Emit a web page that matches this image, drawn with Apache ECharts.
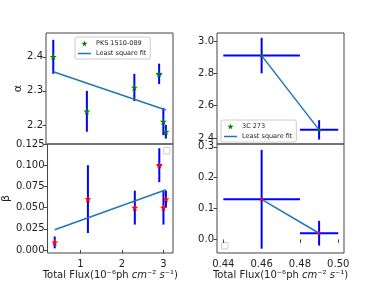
<!DOCTYPE html>
<html><head><meta charset="utf-8">
<script src="https://cdn.jsdelivr.net/npm/echarts@6/dist/echarts.min.js"></script>
<style>html,body{margin:0;padding:0;background:#fff}#c{width:382px;height:285px}</style>
</head><body><div id="c"></div>
<script>
// PKS 1510-089
const pksFlux = [0.38, 1.18, 2.31, 2.90, 3.00, 3.06];
const pksFluxErr = [0, 0, 0, 0.06, 0, 0];
const pksAlpha = [2.40, 2.24, 2.31, 2.35, 2.21, 2.18];
const pksAlphaErr = [0.05, 0.06, 0.04, 0.03, 0.04, 0.02];
const pksBeta = [0.009, 0.06, 0.05, 0.10, 0.05, 0.06];
const pksBetaErr = [0.007, 0.04, 0.02, 0.02, 0.02, 0.01];
const pksFitX = [0.38, 3.06];
const pksFitAlpha = [2.356, 2.244];
const pksFitBeta = [0.024, 0.071];
// 3C 273
const c3Flux = [0.46, 0.49];
const c3FluxErr = [0.02, 0.01];
const c3Alpha = [2.91, 2.45];
const c3AlphaErr = [0.11, 0.06];
const c3Beta = [0.13, 0.02];
const c3BetaErr = [0.16, 0.04];
// ticks
const pksXTicks = [1, 2, 3];
const pksAlphaTicks = [2.2, 2.3, 2.4];
const pksBetaTicks = [0, 0.025, 0.05, 0.075, 0.1, 0.125];
const c3XTicks = [0.44, 0.46, 0.48, 0.50];
const c3AlphaTicks = [2.4, 2.6, 2.8, 3.0];
const c3BetaTicks = [0.0, 0.1, 0.2, 0.3];

const STAR = 'path://M50,0 L61,35 L98,35 L68,57 L79,91 L50,70 L21,91 L32,57 L2,35 L39,35 Z';
const LINE_ICON = 'path://M0,0 L130,0 L130,0.01 Z M0,23 L130,23 L130,37 L0,37 Z M0,60 L130,60 L130,60.01 Z';
const FONT = 'DejaVu Sans';
const TXT = '#222';
const FRAME = '#444';

function zip(xs, ys) { return xs.map((x, i) => [x, ys[i]]); }
function errData(xs, ys, xe, ye) { return xs.map((x, i) => [x, ys[i], xe[i], ye[i]]); }
function errRender(params, api) {
  const x = api.value(0), y = api.value(1), xe = api.value(2), ye = api.value(3);
  const ch = [];
  const a = api.coord([x, y - ye]), b = api.coord([x, y + ye]);
  ch.push({type: 'line', shape: {x1: a[0], y1: a[1], x2: b[0], y2: b[1]}, style: {stroke: '#0000ff', lineWidth: 2}});
  if (xe > 0) {
    const c = api.coord([x - xe, y]), d = api.coord([x + xe, y]);
    ch.push({type: 'line', shape: {x1: c[0], y1: c[1], x2: d[0], y2: d[1]}, style: {stroke: '#0000ff', lineWidth: 2}});
  }
  return {type: 'group', children: ch};
}

const xName = '{n|Total Flux(10⁻⁶ph }{i|cm}{n|⁻² }{i|s}{n|⁻¹)}';
const nameRich = {n: {fontFamily: FONT, fontSize: 10, color: TXT}, i: {fontFamily: FONT, fontSize: 10, fontStyle: 'italic', color: TXT}};

function xAx(grid, min, max, ticks, fmt, showLabels) {
  return {
    type: 'value', gridIndex: grid, min: min, max: max,
    splitLine: {show: false}, axisLine: {show: false},
    axisTick: {show: showLabels, length: 3.5, lineStyle: {color: FRAME}, customValues: ticks},
    axisLabel: {show: showLabels, customValues: ticks, formatter: fmt, fontFamily: FONT, fontSize: 10, color: TXT, margin: 6},
    name: showLabels ? xName : '', nameLocation: 'middle', nameGap: 17,
    nameTextStyle: {rich: nameRich}
  };
}
function yAx(grid, min, max, ticks, fmt, name, gap) {
  return {
    type: 'value', gridIndex: grid, min: min, max: max,
    splitLine: {show: false}, axisLine: {show: false},
    axisTick: {show: true, length: 3.5, lineStyle: {color: FRAME}, customValues: ticks},
    axisLabel: {customValues: ticks, formatter: fmt, fontFamily: FONT, fontSize: 10, color: TXT, margin: 3},
    name: name, nameLocation: 'middle', nameGap: gap,
    nameTextStyle: {fontFamily: FONT, fontSize: 11, color: TXT}
  };
}
const f = d => v => v.toFixed(d);

const grids = [
  {left: 46, top: 33, width: 127, height: 111},
  {left: 46, top: 144, width: 127, height: 109},
  {left: 217, top: 33, width: 127, height: 111},
  {left: 217, top: 144, width: 127, height: 109}
].map(g => Object.assign(g, {show: true, borderColor: FRAME, borderWidth: 1, backgroundColor: 'transparent'}));

const legendBase = {orient: 'vertical', itemGap: 3, itemWidth: 13, itemHeight: 6, padding: [3, 4, 2, 3],
  borderColor: '#ccc', borderWidth: 1, borderRadius: 2, backgroundColor: 'rgba(255,255,255,0.8)',
  textStyle: {fontFamily: FONT, fontSize: 6.5, color: TXT}};

const option = {
  animation: false,
  backgroundColor: '#fff',
  grid: grids,
  xAxis: [
    xAx(0, 0.207, 3.23, pksXTicks, f(0), false),
    xAx(1, 0.207, 3.23, pksXTicks, f(0), true),
    xAx(2, 0.4367, 0.503, c3XTicks, f(2), false),
    xAx(3, 0.4367, 0.503, c3XTicks, f(2), true)
  ],
  yAxis: [
    yAx(0, 2.144, 2.47, pksAlphaTicks, f(1), 'α', 22),
    yAx(1, -0.0035, 0.125, pksBetaTicks, f(3), 'β', 28),
    yAx(2, 2.3625, 3.05, c3AlphaTicks, f(1), '', 20),
    yAx(3, -0.044, 0.309, c3BetaTicks, f(1), '', 20)
  ],
  legend: [
    Object.assign({left: 75, top: 37, data: [{name: 'PKS 1510-089', icon: STAR}, {name: 'Least square fit', icon: LINE_ICON}]}, legendBase),
    Object.assign({left: 221, top: 120, data: [{name: '3C 273', icon: STAR}, {name: 'Least square fit', icon: LINE_ICON}]}, legendBase)
  ],
  graphic: [
    {type: 'rect', shape: {x: 163.5, y: 147.5, width: 6.5, height: 6.5, r: 1}, style: {fill: '#fff', stroke: '#ccc', lineWidth: 1}},
    {type: 'rect', shape: {x: 221.5, y: 242.5, width: 6.5, height: 6.5, r: 1}, style: {fill: '#fff', stroke: '#ccc', lineWidth: 1}}
  ],
  series: [
    {type: 'custom', xAxisIndex: 0, yAxisIndex: 0, renderItem: errRender, data: errData(pksFlux, pksAlpha, pksFluxErr, pksAlphaErr), z: 1, silent: true},
    {type: 'custom', xAxisIndex: 1, yAxisIndex: 1, renderItem: errRender, data: errData(pksFlux, pksBeta, pksFluxErr, pksBetaErr), z: 1, silent: true},
    {type: 'custom', xAxisIndex: 2, yAxisIndex: 2, renderItem: errRender, data: errData(c3Flux, c3Alpha, c3FluxErr, c3AlphaErr), z: 1, silent: true},
    {type: 'custom', xAxisIndex: 3, yAxisIndex: 3, renderItem: errRender, data: errData(c3Flux, c3Beta, c3FluxErr, c3BetaErr), z: 1, silent: true},
    {name: 'Least square fit', type: 'line', xAxisIndex: 0, yAxisIndex: 0, symbol: 'none', data: zip(pksFitX, pksFitAlpha), lineStyle: {color: '#1f77b4', width: 1.5}, itemStyle: {color: '#1f77b4'}, z: 2},
    {name: 'Least square fit', type: 'line', xAxisIndex: 1, yAxisIndex: 1, symbol: 'none', data: zip(pksFitX, pksFitBeta), lineStyle: {color: '#1f77b4', width: 1.5}, itemStyle: {color: '#1f77b4'}, z: 2},
    {name: 'Least square fit', type: 'line', xAxisIndex: 2, yAxisIndex: 2, symbol: 'none', data: zip(c3Flux, c3Alpha), lineStyle: {color: '#1f77b4', width: 1.5}, itemStyle: {color: '#1f77b4'}, z: 2},
    {name: 'Least square fit', type: 'line', xAxisIndex: 3, yAxisIndex: 3, symbol: 'none', data: zip(c3Flux, c3Beta), lineStyle: {color: '#1f77b4', width: 1.5}, itemStyle: {color: '#1f77b4'}, z: 2},
    {name: 'PKS 1510-089', type: 'scatter', xAxisIndex: 0, yAxisIndex: 0, symbol: STAR, symbolSize: 7, data: zip(pksFlux, pksAlpha), itemStyle: {color: '#008000', opacity: 1}, z: 3},
    {name: 'PKS beta', type: 'scatter', xAxisIndex: 1, yAxisIndex: 1, symbol: STAR, symbolSize: 7, data: zip(pksFlux, pksBeta), itemStyle: {color: '#ff0000', opacity: 1}, z: 3},
    {name: '3C 273', type: 'scatter', xAxisIndex: 2, yAxisIndex: 2, symbol: STAR, symbolSize: 5, data: zip(c3Flux, c3Alpha), itemStyle: {color: '#008000', opacity: 1}, z: 3},
    {name: '3C beta', type: 'scatter', xAxisIndex: 3, yAxisIndex: 3, symbol: STAR, symbolSize: 5, data: zip(c3Flux, c3Beta), itemStyle: {color: '#ff0000', opacity: 1}, z: 3}
  ]
};
echarts.init(document.getElementById('c'), null, {renderer: 'canvas'}).setOption(option);
</script></body></html>
